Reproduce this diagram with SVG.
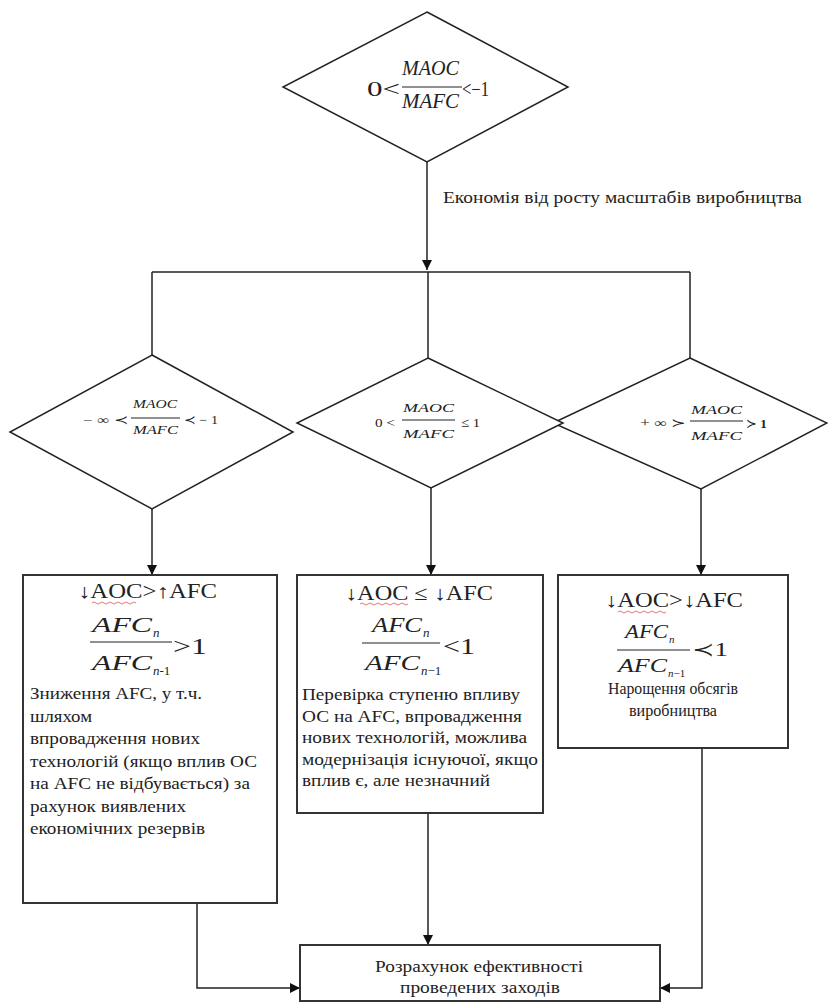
<svg xmlns="http://www.w3.org/2000/svg" width="828" height="1008" viewBox="0 0 828 1008">
<defs>
<marker id="arr" viewBox="0 0 10 10" refX="10" refY="5" markerWidth="10" markerHeight="10" markerUnits="userSpaceOnUse" orient="auto">
<path d="M0,0 L10,5 L0,10 Z" fill="#111"/>
</marker>
<style>
.shape{fill:#fff;stroke:#222;stroke-width:1.5}
.box{fill:#fff;stroke:#333;stroke-width:2}
.con{fill:none;stroke:#222;stroke-width:1.5}
.t{font-family:"Liberation Serif","DejaVu Serif",serif;fill:#222}
.b{font-size:16px}
.eq{font-size:20px}
.it{font-style:italic}
.fl{stroke:#222;stroke-width:1.2}
.sq{fill:none;stroke:#d55;stroke-width:0.8}
</style>
</defs>
<rect width="828" height="1008" fill="#fff"/>

<g id="connectors">
<line class="con" x1="427" y1="162" x2="427" y2="270" marker-end="url(#arr)"/>
<line class="con" x1="152" y1="272" x2="690" y2="272"/>
<line class="con" x1="152" y1="272" x2="152" y2="355"/>
<line class="con" x1="428" y1="272" x2="428" y2="358"/>
<line class="con" x1="690" y1="272" x2="690" y2="358"/>
<line class="con" x1="152" y1="509" x2="152" y2="575" marker-end="url(#arr)"/>
<line class="con" x1="431" y1="488" x2="431" y2="575" marker-end="url(#arr)"/>
<line class="con" x1="701" y1="489" x2="701" y2="575" marker-end="url(#arr)"/>
<polyline class="con" points="197,903 197,988 300,988" marker-end="url(#arr)"/>
<line class="con" x1="428" y1="813" x2="428" y2="945" marker-end="url(#arr)"/>
<polyline class="con" points="702,748 702,988 660,988" marker-end="url(#arr)"/>
</g>

<g id="d-top">
<polygon class="shape" points="427,12 568,87 427,162 283,87"/>
<text class="t" x="367" y="96" font-size="20" textLength="33" lengthAdjust="spacingAndGlyphs">0&lt;</text>
<text class="t it" x="402" y="75" font-size="20" textLength="57" lengthAdjust="spacingAndGlyphs">MAOC</text>
<line class="fl" x1="402" y1="87" x2="462" y2="87"/>
<text class="t it" x="402" y="108" font-size="20" textLength="57" lengthAdjust="spacingAndGlyphs">MAFC</text>
<text class="t" x="462" y="96" font-size="20" textLength="27" lengthAdjust="spacingAndGlyphs">&lt;−1</text>
</g>

<text class="t" x="443" y="203" font-size="16" textLength="359" lengthAdjust="spacingAndGlyphs">Економія від росту масштабів виробництва</text>

<g id="d-left">
<polygon class="shape" points="152,355 293,432 152,509 10,432"/>
<text class="t" x="83" y="424" font-size="12" textLength="45" lengthAdjust="spacingAndGlyphs">− ∞ ≺</text>
<text class="t it" x="133" y="408" font-size="13" textLength="44" lengthAdjust="spacingAndGlyphs">MAOC</text>
<line x1="131" y1="418" x2="180" y2="418" stroke="#222" stroke-width="1"/>
<text class="t it" x="133" y="434" font-size="13" textLength="45" lengthAdjust="spacingAndGlyphs">MAFC</text>
<text class="t" x="184" y="424" font-size="12" textLength="34" lengthAdjust="spacingAndGlyphs">≺ − 1</text>
</g>

<g id="d-right">
<polygon class="shape" points="690,358 827,423 701,489 553,423"/>
<text class="t" x="640" y="427" font-size="12" textLength="46" lengthAdjust="spacingAndGlyphs">+ ∞ ≻</text>
<text class="t it" x="691" y="414" font-size="13" textLength="51" lengthAdjust="spacingAndGlyphs">MAOC</text>
<line x1="690" y1="421" x2="743" y2="421" stroke="#222" stroke-width="1"/>
<text class="t it" x="691" y="440" font-size="13" textLength="51" lengthAdjust="spacingAndGlyphs">MAFC</text>
<text class="t" x="746" y="428" font-size="13">≻ <tspan font-weight="bold">1</tspan></text>
</g>

<g id="d-mid">
<polygon class="shape" points="428,358 563,423 431,488 297,423" fill="none"/>
<text class="t" x="375" y="427" font-size="13" textLength="20" lengthAdjust="spacingAndGlyphs">0 &lt;</text>
<text class="t it" x="403" y="412" font-size="13" textLength="51" lengthAdjust="spacingAndGlyphs">MAOC</text>
<line x1="402" y1="420" x2="455" y2="420" stroke="#222" stroke-width="1"/>
<text class="t it" x="403" y="438" font-size="13" textLength="51" lengthAdjust="spacingAndGlyphs">MAFC</text>
<text class="t" x="461" y="427" font-size="13" textLength="19" lengthAdjust="spacingAndGlyphs">≤ 1</text>
</g>

<g id="box-left">
<rect class="box" x="23" y="575" width="254" height="328"/>
<text class="t eq" x="78" y="598" textLength="139" lengthAdjust="spacingAndGlyphs">↓AOC&gt;↑AFC</text>
<path class="sq" d="M92,603 q2,-2 4,0 t4,0 t4,0 t4,0 t4,0 t4,0 t4,0 t4,0 t4,0 t4,0 t4,0"/>
<text class="t it" x="92" y="632" font-size="22" textLength="60" lengthAdjust="spacingAndGlyphs">AFC</text>
<text class="t it" x="153" y="637" font-size="13">n</text>
<line class="fl" x1="90" y1="642" x2="172" y2="642"/>
<text class="t it" x="92" y="670" font-size="22" textLength="60" lengthAdjust="spacingAndGlyphs">AFC</text>
<text class="t" x="153" y="675" font-size="13"><tspan font-style="italic">n</tspan>-1</text>
<text class="t" x="173" y="654" font-size="24" textLength="34" lengthAdjust="spacingAndGlyphs">&gt;1</text>
<text class="t b" x="30" y="699" textLength="172" lengthAdjust="spacingAndGlyphs">Зниження AFC, у т.ч.</text>
<text class="t b" x="30" y="721.5" textLength="62" lengthAdjust="spacingAndGlyphs">шляхом</text>
<text class="t b" x="30" y="744" textLength="170" lengthAdjust="spacingAndGlyphs">впровадження нових</text>
<text class="t b" x="30" y="766.5" textLength="227" lengthAdjust="spacingAndGlyphs">технологій (якщо вплив ОС</text>
<text class="t b" x="30" y="789" textLength="220" lengthAdjust="spacingAndGlyphs">на AFC не відбувається) за</text>
<text class="t b" x="30" y="811.5" textLength="156" lengthAdjust="spacingAndGlyphs">рахунок виявлених</text>
<text class="t b" x="30" y="834" textLength="175" lengthAdjust="spacingAndGlyphs">економічних резервів</text>
</g>

<g id="box-mid">
<rect class="box" x="297" y="575" width="246" height="238"/>
<text class="t eq" x="345" y="600" textLength="148" lengthAdjust="spacingAndGlyphs">↓AOC ≤ ↓AFC</text>
<path class="sq" d="M360,604 q2,-2 4,0 t4,0 t4,0 t4,0 t4,0 t4,0 t4,0 t4,0 t4,0 t4,0 t4,0 t4,0"/>
<text class="t it" x="372" y="632" font-size="22" textLength="50" lengthAdjust="spacingAndGlyphs">AFC</text>
<text class="t it" x="423" y="637" font-size="13">n</text>
<line class="fl" x1="362" y1="643" x2="440" y2="643"/>
<text class="t it" x="365" y="670" font-size="22" textLength="55" lengthAdjust="spacingAndGlyphs">AFC</text>
<text class="t" x="421" y="675" font-size="13"><tspan font-style="italic">n</tspan>−1</text>
<text class="t" x="443" y="654" font-size="24" textLength="32" lengthAdjust="spacingAndGlyphs">&lt;1</text>
<text class="t b" x="302" y="700" textLength="218" lengthAdjust="spacingAndGlyphs">Перевірка ступеню впливу</text>
<text class="t b" x="302" y="721.5" textLength="220" lengthAdjust="spacingAndGlyphs">ОС на AFC, впровадження</text>
<text class="t b" x="302" y="743" textLength="225" lengthAdjust="spacingAndGlyphs">нових технологій, можлива</text>
<text class="t b" x="302" y="764.5" textLength="236" lengthAdjust="spacingAndGlyphs">модернізація існуючої, якщо</text>
<text class="t b" x="302" y="786" textLength="188" lengthAdjust="spacingAndGlyphs">вплив є, але незначний</text>
</g>

<g id="box-right">
<rect class="box" x="558" y="575" width="230" height="173"/>
<text class="t eq" x="605" y="607" textLength="138" lengthAdjust="spacingAndGlyphs">↓AOC&gt;↓AFC</text>
<path class="sq" d="M618,612 q2,-2 4,0 t4,0 t4,0 t4,0 t4,0 t4,0 t4,0 t4,0 t4,0 t4,0 t4,0 t4,0"/>
<text class="t it" x="625" y="638" font-size="18" textLength="43" lengthAdjust="spacingAndGlyphs">AFC</text>
<text class="t it" x="669" y="643" font-size="11">n</text>
<line class="fl" x1="617" y1="650" x2="690" y2="650"/>
<text class="t it" x="618" y="672" font-size="18" textLength="49" lengthAdjust="spacingAndGlyphs">AFC</text>
<text class="t" x="668" y="677" font-size="11"><tspan font-style="italic">n</tspan>−1</text>
<text class="t" x="692" y="656" font-size="19" textLength="36" lengthAdjust="spacingAndGlyphs">≺1</text>
<text class="t b" x="608" y="694" textLength="130" lengthAdjust="spacingAndGlyphs">Нарощення обсягів</text>
<text class="t b" x="629" y="716" textLength="88" lengthAdjust="spacingAndGlyphs">виробництва</text>
</g>

<g id="box-final">
<rect class="box" x="300" y="945" width="360" height="56"/>
<text class="t b" x="375" y="972" textLength="208" lengthAdjust="spacingAndGlyphs">Розрахунок ефективності</text>
<text class="t b" x="400" y="993" textLength="160" lengthAdjust="spacingAndGlyphs">проведених заходів</text>
</g>
</svg>
